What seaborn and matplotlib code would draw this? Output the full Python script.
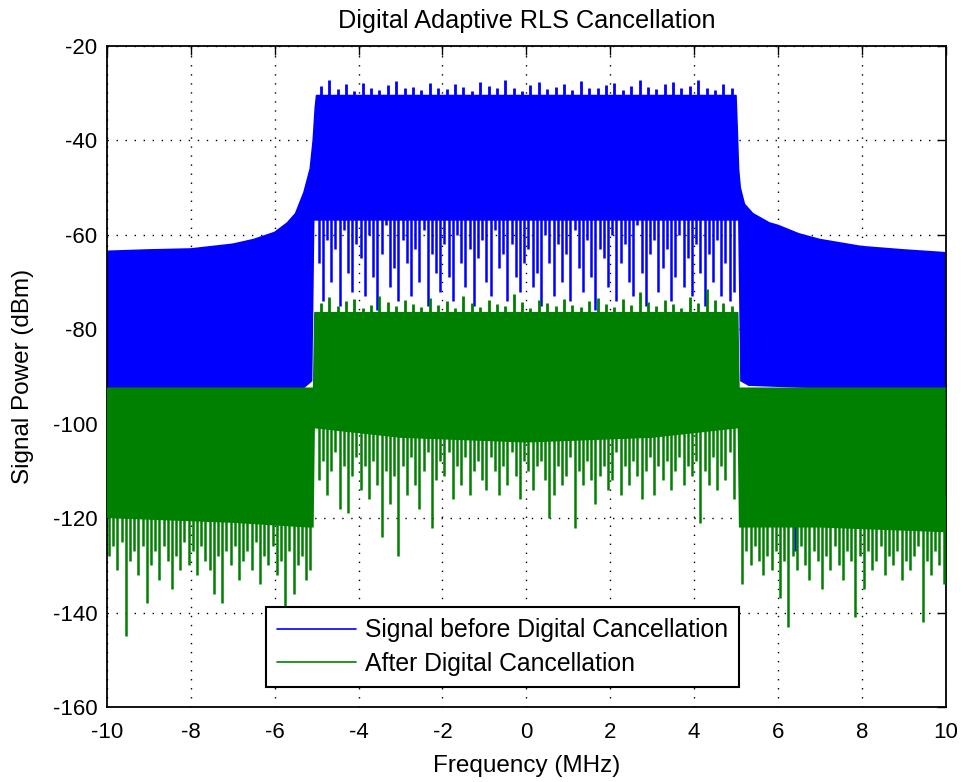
import numpy as np
import seaborn as sns
import matplotlib
matplotlib.use("Agg")
import matplotlib.pyplot as plt

# ---- data (frequency in MHz, power in dBm) ----
# blue: signal before digital cancellation, outline of the spectrum
blue_top_f = [-10, -9, -8, -7, -6.5, -6, -5.7, -5.5, -5.3, -5.15, -5.08, -5.03, -5.0,
              5.0, 5.03, 5.06, 5.1, 5.2, 5.4, 5.8, 6.0, 6.5, 7, 8, 9, 10]
blue_top = [-63.5, -63.2, -63, -62, -61, -59.5, -57.5, -55.5, -51, -46, -40, -33, -30.5,
            -30.5, -38, -46, -50, -53.5, -55.5, -57.5, -58, -59.8, -61, -62.5, -63.2, -63.8]
blue_bot_f = [-10, -5.3, -5.1, -5.05, 5.05, 5.1, 5.3, 10]
blue_bot = [-93, -92.5, -91, -57, -57, -91, -92, -93.5]

# blue in-band peaks (every 0.2 MHz from -4.9) and dips (every 0.1 MHz from -4.95)
blue_tips = [-28.5, -27.2, -29.1, -28.0, -29.5, -27.8, -28.9, -29.3, -28.2, -27.5,
             -29.0, -28.6, -29.4, -27.9, -28.8, -29.2, -28.1, -28.7, -29.6, -27.6,
             -28.4, -29.0, -27.3, -28.9, -29.5, -28.3, -27.7, -29.1, -28.6, -28.0,
             -29.3, -27.4, -28.8, -29.0, -28.2, -27.9, -29.4, -28.5, -27.1, -28.7,
             -29.2, -28.0, -27.6, -29.0, -28.4, -27.2, -28.9, -29.3, -28.1, -28.8]
blue_dips = [-66, -74, -61, -70, -63, -75, -59, -68, -72, -62,
             -65, -73, -60, -69, -76, -64, -58, -71, -67, -74,
             -61, -66, -73, -63, -70, -59, -75, -64, -68, -72,
             -62, -69, -74, -60, -66, -71, -63, -75, -65, -61,
             -70, -73, -59, -67, -64, -74, -62, -69, -72, -66,
             -63, -71, -68, -75, -60, -66, -73, -62, -70, -64,
             -74, -59, -67, -72, -61, -69, -76, -63, -65, -71,
             -60, -74, -66, -62, -70, -73, -58, -68, -75, -64,
             -61, -72, -67, -63, -74, -69, -60, -71, -65, -73,
             -62, -68, -75, -64, -70, -61, -73, -66, -74, -72]
blue_out_dip_f = [6.4]
blue_out_dip = [-127]

# green: after digital cancellation
green_top_f = [-10, -5.07, -5.04, 5.04, 5.07, 10]
green_top = [-92.5, -92.5, -76.5, -76.5, -92.5, -92.5]
green_bot_f = [-10, -7, -5.2, -5.07, -5.04, -3, 0, 3, 5.04, 5.07, 5.2, 7, 10]
green_bot = [-120, -121, -122, -122, -101, -103, -104, -103, -101, -122, -122, -122, -123]

green_tips = [-74.5, -73.2, -75.1, -74.0, -73.6, -75.4, -74.8, -72.9, -74.3, -75.0,
              -73.8, -74.6, -75.3, -73.4, -74.9, -74.1, -75.5, -73.0, -74.4, -75.2,
              -73.7, -74.7, -75.0, -72.6, -74.2, -75.4, -73.9, -74.5, -75.1, -73.5,
              -74.8, -75.3, -74.0, -73.3, -74.6, -75.2, -73.6, -74.9, -72.2, -74.3,
              -75.0, -73.8, -74.7, -75.4, -73.1, -74.5, -71.5, -73.9, -74.4, -75.0]
green_dips = [-112, -108, -115, -110, -106, -118, -109, -119, -111, -107,
              -114, -109, -116, -108, -113, -124, -110, -117, -111, -128,
              -109, -115, -107, -113, -118, -110, -106, -122, -112, -108,
              -111, -106, -116, -109, -113, -107, -115, -110, -108, -112,
              -114, -107, -110, -115, -109, -113, -106, -111, -116, -108,
              -110, -114, -109, -108, -112, -120, -115, -109, -113, -111,
              -107, -122, -110, -113, -108, -112, -117, -111, -109, -114,
              -112, -106, -115, -109, -113, -108, -111, -116, -110, -107,
              -115, -109, -112, -108, -114, -110, -107, -113, -109, -111,
              -108, -121, -110, -113, -107, -114, -109, -112, -106, -116]
# out-of-band dips, every 0.1 MHz: left from -9.95, right from 5.15
green_dips_left = [-128, -126, -131, -125, -145, -129, -127, -132, -126, -138,
                   -130, -127, -133, -126, -129, -135, -128, -131, -125, -130,
                   -127, -132, -126, -129, -131, -136, -128, -138, -127, -130,
                   -126, -133, -129, -127, -131, -125, -134, -128, -130, -126,
                   -132, -129, -139, -127, -136, -130, -128, -133, -131]
green_dips_right = [-134, -127, -130, -126, -129, -132, -128, -131, -127, -137,
                    -129, -143, -128, -131, -126, -130, -133, -127, -129, -135,
                    -128, -131, -126, -130, -133, -127, -129, -141, -128, -135,
                    -127, -131, -129, -126, -132, -128, -130, -127, -133, -129,
                    -131, -128, -126, -142, -129, -132, -127, -130, -134]

tip_f = np.round(np.arange(-4.9, 4.91, 0.2), 2)
dip_f = np.round(np.arange(-4.95, 4.96, 0.1), 2)
left_f = np.round(np.arange(-9.95, -5.1, 0.1), 2)
right_f = np.round(np.arange(5.15, 9.96, 0.1), 2)

blue = (0, 0, 1)
green = (0, 0.5, 0)

sns.set_theme(style="white")
plt.rcParams['font.family'] = ['Liberation Sans', 'DejaVu Sans']
plt.rcParams['axes.unicode_minus'] = False
plt.rcParams['text.color'] = 'black'
plt.rcParams['axes.labelcolor'] = 'black'

fig = plt.figure(figsize=(9.63, 7.82), dpi=100)
ax = fig.add_axes([0.111, 0.0959, 0.871, 0.8453])

tip_lw = 2.0
dip_lw = 1.8

# signal before cancellation
ax.fill(np.r_[blue_top_f, blue_bot_f[::-1]], np.r_[blue_top, blue_bot[::-1]],
        color=blue, lw=0, zorder=2)
ax.vlines(tip_f, -31, blue_tips, color=blue, lw=tip_lw, zorder=2)
ax.vlines(dip_f, -55, blue_dips, color=blue, lw=dip_lw, zorder=2)
ax.vlines(blue_out_dip_f, -95, blue_out_dip, color=blue, lw=dip_lw, zorder=2)
sns.lineplot(x=blue_top_f, y=blue_top, color=blue, lw=1.2, ax=ax, zorder=2,
             label='Signal before Digital Cancellation')

# after cancellation
ax.fill(np.r_[green_top_f, green_bot_f[::-1]], np.r_[green_top, green_bot[::-1]],
        color=green, lw=0, zorder=3)
ax.vlines(tip_f, -78, green_tips, color=green, lw=tip_lw, zorder=3)
ax.vlines(dip_f, -100, green_dips, color=green, lw=dip_lw, zorder=3)
ax.vlines(left_f, -115, green_dips_left, color=green, lw=dip_lw, zorder=3)
ax.vlines(right_f, -115, green_dips_right, color=green, lw=dip_lw, zorder=3)
sns.lineplot(x=green_top_f, y=green_top, color=green, lw=1.2, ax=ax, zorder=3,
             label='After Digital Cancellation')

ax.set_xlim(-10, 10)
ax.set_ylim(-160, -20)
ax.set_xticks(np.arange(-10, 11, 2))
ax.set_yticks(np.arange(-160, -19, 20))
ax.set_axisbelow(True)
ax.grid(True, color='black', linestyle=(0, (1, 5.5)), lw=1.0)
for s in ax.spines.values():
    s.set_color('black')
    s.set_linewidth(1.3)
ax.tick_params(direction='in', length=6.5, width=1, top=True, right=True,
               labelsize=16, colors='black')
ax.tick_params(axis='x', pad=10.5)
ax.tick_params(axis='y', pad=7)

ax.set_title('Digital Adaptive RLS Cancellation', fontsize=18.2, pad=13, color='black')
ax.set_xlabel('Frequency (MHz)', fontsize=17.5, labelpad=9, color='black')
ax.set_ylabel('Signal Power (dBm)', fontsize=17.5, color='black')
ax.yaxis.set_label_coords(-0.087, 0.5)

leg = ax.legend(loc='lower left', bbox_to_anchor=(0.190, 0.030), fontsize=17.8,
                fancybox=False, framealpha=1, edgecolor='black',
                handlelength=3.2, borderpad=0.45, labelspacing=0.4,
                handletextpad=0.35, borderaxespad=0, labelcolor='black')
leg.get_frame().set_linewidth(1.5)

fig.savefig('out.png', dpi=100)
